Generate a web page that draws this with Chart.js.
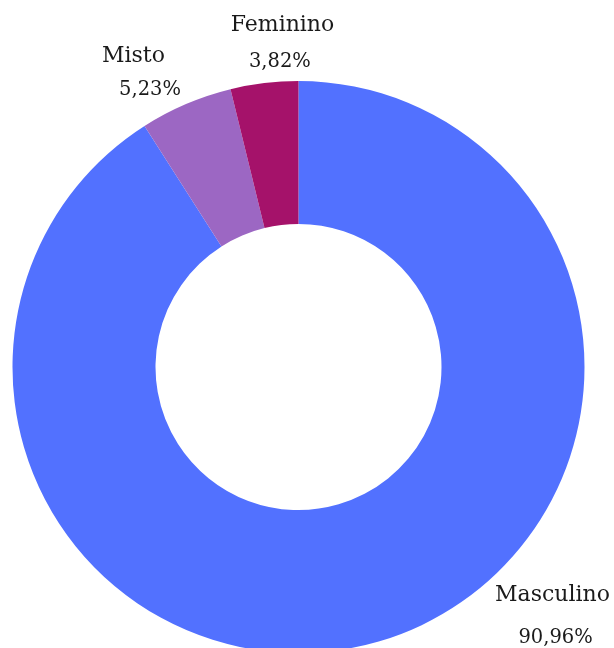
<!DOCTYPE html>
<html>
<head>
<meta charset="utf-8">
<script src="https://cdn.jsdelivr.net/npm/chart.js@4/dist/chart.umd.min.js"></script>
<style>
    html, body { margin: 0; padding: 0; background: #fff; overflow: hidden; }
    #wrap { width: 614px; height: 700px; }
</style>
</head>
<body>
<div id="wrap"><canvas id="genderChart" width="614" height="700"></canvas></div>
<script>
// Categorias e percentuais (sentido horario a partir do topo)
const categories = ['Masculino', 'Misto', 'Feminino'];
const percentages = [90.96, 5.23, 3.82];
const sliceColors = ['#5271FF', '#9C67C3', '#A5126A'];

// Rotulos fora do anel: posicao relativa ao centro, em multiplos do raio
const labelPlugin = {
    id: 'outerLabels',
    afterDatasetsDraw(chart, args, opts) {
        const ctx = chart.ctx;
        const meta = chart.getDatasetMeta(0);
        ctx.save();
        ctx.fillStyle = opts.color;
        ctx.textAlign = 'center';
        ctx.textBaseline = 'middle';
        meta.data.forEach((arc, i) => {
            const spot = opts.spots[i];
            const r = arc.outerRadius;
            const value = percentages[i].toFixed(2).replace('.', ',') + '%';
            ctx.font = opts.nameFont;
            ctx.fillText(categories[i], arc.x + spot.name[0] * r, arc.y + spot.name[1] * r);
            ctx.font = opts.valueFont;
            ctx.fillText(value, arc.x + spot.value[0] * r, arc.y + spot.value[1] * r);
        });
        ctx.restore();
    }
};

new Chart(document.getElementById('genderChart').getContext('2d'), {
    type: 'doughnut',
    data: {
        labels: categories,
        datasets: [{
            data: percentages,
            backgroundColor: sliceColors,
            borderWidth: 0
        }]
    },
    options: {
        responsive: false,
        animation: false,
        cutout: '50%',
        layout: {
            padding: { top: 81, left: 12, right: 29, bottom: 47 }
        },
        plugins: {
            legend: { display: false },
            tooltip: { enabled: false },
            outerLabels: {
                nameFont: '22px "DejaVu Serif"',
                valueFont: '19.5px "DejaVu Serif"',
                color: '#1a1a1a',
                spots: [
                    { name: [0.888, 0.797], value: [0.899, 0.947] },
                    { name: [-0.577, -1.087], value: [-0.519, -0.969] },
                    { name: [-0.056, -1.196], value: [-0.065, -1.066] }
                ]
            }
        }
    },
    plugins: [labelPlugin]
});
</script>
</body>
</html>
